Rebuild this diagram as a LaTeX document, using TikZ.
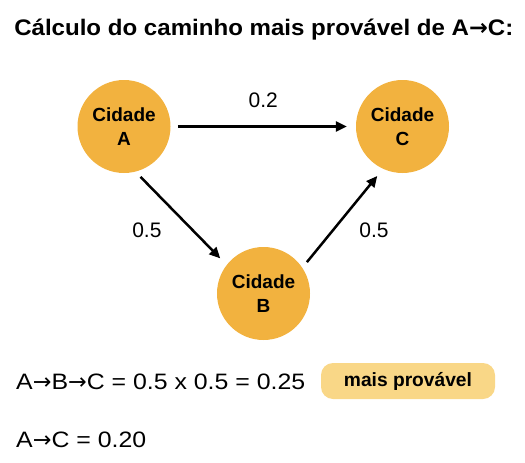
\documentclass[tikz,border=0pt]{standalone}
\usepackage{fontspec}
\setmainfont{Liberation Sans}
\newfontfamily\largafont{Liberation Sans}[FakeStretch=1.115]
\newfontfamily\titulofont{Liberation Sans}[FakeStretch=1.07]
\newfontfamily\setafont{DejaVu Sans}
\newcommand{\seta}{{\setafont →}}
\usetikzlibrary{positioning, arrows.meta}
\definecolor{cidadecor}{HTML}{F2B23F}
\definecolor{destaque}{HTML}{F9D787}

\begin{document}
\begin{tikzpicture}[>={Triangle[length=11pt,width=10pt]}, line width=2.5pt, x=1pt, y=-1pt,
    cidade/.style={circle, fill=cidadecor, minimum size=93pt, inner sep=0pt, align=center,
        font=\bfseries\fontsize{19}{24.5}\selectfont},
    ligacao/.style={->, shorten <=6pt, shorten >=8pt},
    peso/.style={inner sep=0pt, font=\fontsize{21}{25}\selectfont},
    texto/.style={inner sep=0pt, anchor=base west, font=\largafont\fontsize{22.3}{26}\selectfont},
    selo/.style={fill=destaque, rounded corners=12pt, minimum width=174pt, minimum height=36pt,
        font=\bfseries\fontsize{19.2}{22}\selectfont}]
    \useasboundingbox (0,0) rectangle (525,463);
    \node[texto, font=\titulofont\bfseries\fontsize{22.5}{26}\selectfont] (titulo) at (13,35) {Cálculo do caminho mais provável de A\seta C:};
    \node[cidade] (A) at (124,126.5) {Cidade\\A};
    \node[cidade] (C) at (402.5,126.5) {Cidade\\C};
    \node[cidade] (B) at (263.5,293.5) {Cidade\\B};
    \draw (A.0) edge [ligacao] node[peso, above=18pt] (pAC) {0.2} (C.180);
    \draw (A.-75) edge [ligacao] node[peso, pos=.63, left=30pt] (pAB) {0.5} (B.142);
    \draw (B.34.5) edge [ligacao] node[peso, pos=.38, right=25pt] (pBC) {0.5} (C.-115);
    \node[texto] (calcABC) at (15,389) {A\seta B\seta C = 0.5 x 0.5 = 0.25};
    \node[selo] (maisprov) at (408,381) {mais provável};
    \node[texto] (calcAC) at (15,447) {A\seta C = 0.20};
\end{tikzpicture}
\end{document}
